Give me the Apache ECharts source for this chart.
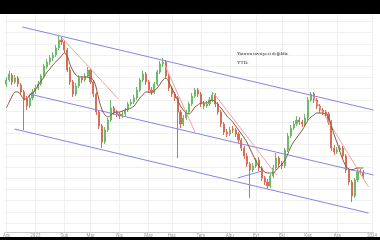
<!DOCTYPE html>
<html><head><meta charset="utf-8">
<script src="https://cdn.jsdelivr.net/npm/echarts@6/dist/echarts.min.js"></script>
<style>html,body{margin:0;padding:0;background:#fff}#c{width:380px;height:240px}</style>
</head><body><div id="c"></div>
<script>
// candle values (price units)
const opens = [148,152,157,150,154,147,140,133,126,134,140,144,148,156,165,170,174,177,184,192,190,182,162,150,138,146,154,152,156,162,150,138,120,106,90,102,112,124,120,118,116,118,122,128,130,134,142,152,158,150,142,140,148,160,168,170,156,144,138,134,120,108,114,120,128,136,142,138,128,126,128,132,137,128,120,108,100,98,103,102,98,92,84,76,68,62,66,72,64,54,50,46,56,64,74,68,66,82,96,104,108,112,110,108,114,132,138,132,126,122,120,118,110,84,80,82,84,76,62,50,36,52,61,60];
const closes = [152,158,150,154,148,140,132,126,134,140,144,148,156,166,170,174,177,184,192,190,182,162,150,138,146,154,152,156,162,150,138,120,106,90,102,112,124,120,118,116,118,122,128,130,134,142,152,158,150,142,140,148,160,168,170,156,144,138,134,120,108,114,120,128,136,142,138,128,126,128,132,137,128,120,108,100,98,102,102,98,92,84,76,68,62,66,72,64,54,50,46,56,64,74,68,66,82,96,104,108,112,110,108,114,132,138,132,126,122,120,118,110,84,80,82,84,76,62,50,36,52,60,60,56];
const lows = [145,150,147,148,145,137,102,122,124,132,138,142,146,154,163,167,171,175,182,187,179,160,147,135,136,144,149,150,154,148,135,117,103,84,88,100,110,117,115,113,114,116,120,126,128,132,140,150,147,139,137,138,146,158,165,153,141,135,131,74,104,106,112,118,126,134,135,125,123,124,126,130,125,117,105,97,95,96,99,95,89,81,73,65,34,60,64,61,51,47,43,44,54,62,65,63,64,80,94,102,106,107,105,106,112,130,129,123,119,117,115,107,81,77,78,80,73,59,47,30,34,50,57,53];
const highs = [155,161,159,157,156,149,142,136,137,143,147,151,158,168,173,177,180,187,196,195,192,184,165,152,149,157,156,159,165,164,152,140,122,108,105,114,132,126,122,120,121,124,130,133,137,145,154,161,160,152,145,150,162,171,174,172,158,146,140,136,122,117,122,130,139,144,144,140,131,131,135,140,139,130,122,110,103,105,106,104,100,94,86,79,70,69,74,75,66,56,53,58,67,79,76,71,84,99,107,111,116,115,112,118,135,140,140,134,128,124,122,120,112,87,85,87,86,78,64,52,54,63,63,62];
const movingAvg = [124,130,136,140,140,137,133,133,137,139,142,147,151,155,160,163,167,170,173,176,179,176,167,161,157,155,155,155,155,154,152,144,131,122,117,115,117,119,120,120,121,122,123,124,126,130,134,137,140,140,139,141,144,148,152,154,150,144,138,132,126,122,119,118,121,125,127,129,129,129,131,132,130,127,124,120,116,113,110,106,102,98,94,89,83,77,71,66,63,60,59,59,59,62,65,68,72,78,85,90,94,98,102,107,112,115,117,119,119,119,118,115,106,97,89,80,72,66,63,62,63,64,64,64];
// trend channel and trend lines: [x position in bars, price]
const channelUpper = [[6.0,205],[127,122]];
const channelMiddle = [[8.4,138],[127,57]];
const channelLower = [[3.3,103],[125.3,19]];
const supportShort = [[80.2,54],[88.6,61]];
const downTrend1 = [[19.7,194],[39.1,133]];
const downTrend2 = [[55.1,167],[65.5,100]];
const downTrend3 = [[71.9,139],[93.6,57]];
const downTrend4 = [[105.9,137],[125.3,45]];
// axis ticks
const barCount = 127;
const tickIdx = [0,10,20,29,39,49,57,67,77,86,95,104,114,126];
const tickLabels = ["Ara","2023","Şub","Mar","Nis","May","Haz","Tem","Ağu","Eyl","Eki","Kas","Ara","2024"];
const priceGrid = [210.5,199.3,188.1,176.9,165.7,154.5,143.3,132.1,120.9,109.7,98.5,87.3,76.1,64.9,53.7,42.5,31.3,20.1,8.9];

const categories = [];
for (let i = 0; i < barCount; i++) categories.push('b' + i);
const candleData = opens.map((o, i) => [o, closes[i], lows[i], highs[i]]);
const labelMap = {};
tickIdx.forEach((t, k) => { labelMap[t] = tickLabels[k]; });

const gridLines = tickIdx.map(t => ({ xAxis: categories[t] }))
  .concat(priceGrid.map(v => ({ yAxis: v })));

function seg(data, color) {
  return { type: 'line', xAxisIndex: 1, yAxisIndex: 0, data: data, symbol: 'none', silent: true, z: 4,
    lineStyle: { color: color, width: 1 }, animation: false };
}

const chart = echarts.init(document.getElementById('c'), null, { renderer: 'canvas' });
chart.setOption({
  animation: false,
  backgroundColor: '#ffffff',
  grid: { left: 0, right: 0, top: 15, bottom: 8, containLabel: false },
  xAxis: [
    { type: 'category', data: categories, boundaryGap: true,
      axisLine: { show: true, lineStyle: { color: '#c8c8c8', width: 1 } },
      axisTick: { show: false },
      splitLine: { show: false },
      axisLabel: { show: true, interval: (i) => labelMap[i] !== undefined, formatter: (v, i) => labelMap[i] || '',
        fontSize: 4.5, color: '#999', margin: 1, fontFamily: 'Roboto', hideOverlap: false } },
    { type: 'value', min: 0, max: barCount, show: false }
  ],
  yAxis: [{ type: 'value', min: 0, max: 217, show: false, splitLine: { show: false } }],
  series: [
    { type: 'line', data: [], xAxisIndex: 0, yAxisIndex: 0, silent: true, z: 0,
      markLine: { silent: true, symbol: 'none', z: 0, label: { show: false },
        lineStyle: { color: '#f0f0f0', width: 1, type: 'solid' }, data: gridLines } },
    { type: 'candlestick', data: candleData, barWidth: 1.6, z: 3,
      itemStyle: { color: '#6dbb6a', color0: '#d66e58', borderColor: '#6dbb6a', borderColor0: '#d66e58', borderWidth: 1 } },
    { type: 'line', data: movingAvg, symbol: 'none', smooth: 0.3, z: 5, silent: true,
      lineStyle: { color: '#8a5a3a', width: 1 } },
    seg(channelUpper, '#8686e2'),
    seg(channelMiddle, '#8686e2'),
    seg(channelLower, '#8686e2'),
    seg(supportShort, '#8686e2'),
    seg(downTrend1, '#f2a2a0'),
    seg(downTrend2, '#f2a2a0'),
    seg(downTrend3, '#f2a2a0'),
    seg(downTrend4, '#f2a2a0')
  ],
  graphic: [
    { type: 'rect', left: 0, top: 0, z: 100, shape: { width: 380, height: 14 }, style: { fill: '#000' } },
    { type: 'rect', left: 0, top: 237, z: 100, shape: { width: 380, height: 3 }, style: { fill: '#000' } },
    { type: 'text', left: 237, top: 51, z: 100, style: { text: 'Yatırım tavsiyesi değildir.', fontSize: 5, fontFamily: 'Liberation Serif', fill: '#222' } },
    { type: 'text', left: 237, top: 60, z: 100, style: { text: 'YTD.', fontSize: 5, fontFamily: 'Liberation Serif', fill: '#222' } }
  ]
});
</script></body></html>
